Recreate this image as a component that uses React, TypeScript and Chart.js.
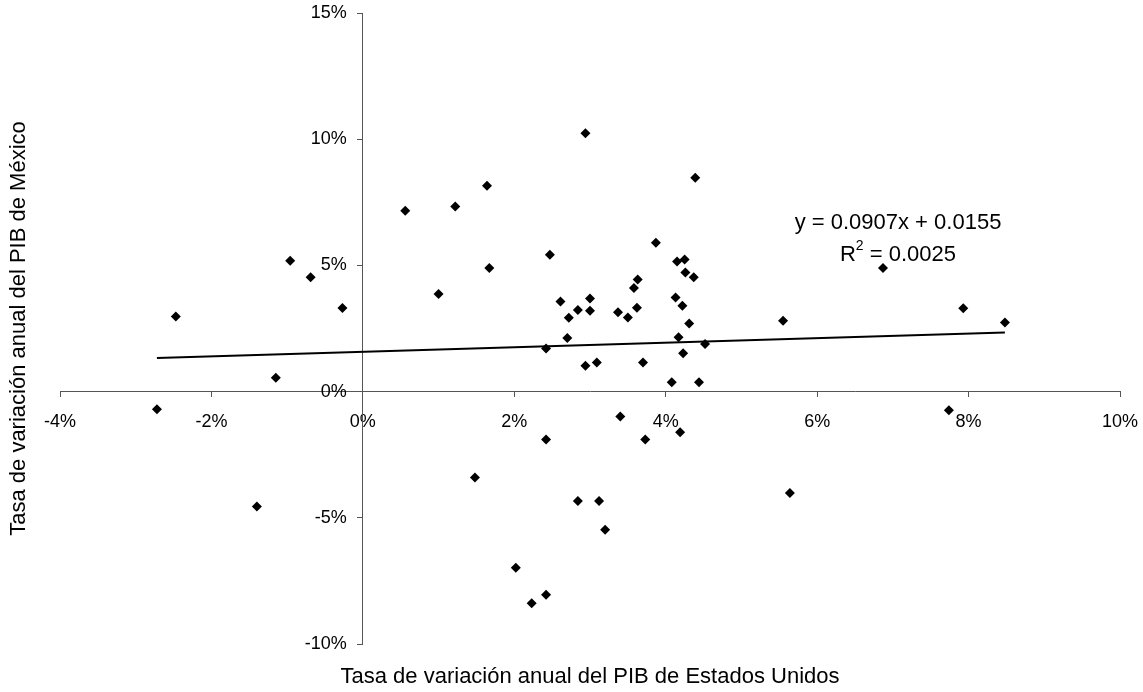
import React, { useEffect, useRef } from "react";
import { Chart, registerables } from "chart.js";

Chart.register(...registerables);

// US GDP growth (%) and Mexico GDP growth (%)
const usGrowth = [
  -2.47, -0.96, -0.69, -0.27, -1.15, -2.72, -1.4, 2.94, 4.39, 1.64,
  1.22, 0.56, 3.87, 2.47, 1.67, 4.15, 4.25, 4.26, 4.37, 3.63,
  3.58, 1.0, 2.61, 3.0, 4.13, 4.22, 2.84, 3.0, 3.37, 3.62,
  3.5, 2.72, 4.31, 2.7, 4.17, 4.52, 2.42, 4.23, 2.94, 3.09,
  3.7, 4.08, 4.44, 3.4, 2.42, 3.73, 4.19, 1.48, 2.84, 3.12,
  3.2, 5.64, 2.02, 2.42, 2.23, 6.87, 5.55, 7.93, 8.48, 7.74,
];
const mxGrowth = [
  2.98, 5.18, 4.53, 3.31, 0.55, -0.7, -4.55, 10.24, 8.47, 8.16,
  7.33, 7.17, 5.9, 5.42, 4.9, 5.15, 5.23, 4.72, 4.53, 4.44,
  4.1, 3.87, 3.57, 3.69, 3.73, 3.4, 3.23, 3.2, 3.14, 3.32,
  2.94, 2.93, 2.7, 2.12, 2.15, 1.89, 1.71, 1.52, 1.02, 1.15,
  1.15, 0.37, 0.37, -0.99, -1.9, -1.9, -1.61, -3.4, -4.33, -4.33,
  -5.47, -4.02, -6.98, -8.05, -8.39, 4.9, 2.81, 3.3, 2.74, -0.74,
];
const trendX = [-2.72, 8.48];
const trendY = [1.33, 2.34];

const xTitle = "Tasa de variación anual del PIB de Estados Unidos";
const yTitle = "Tasa de variación anual del PIB de México";
const eqLine = "y = 0.0907x + 0.0155";
const r2Value = " = 0.0025";

const FONT = "'Liberation Sans', Arial, sans-serif";

const textPlugin = {
  id: "customText",
  beforeDraw(chart: any) {
    const ys = chart.scales.y;
    const items = ys.getLabelItems(chart.chartArea);
    if (!items._shifted) {
      items.forEach((it: any) => {
        it.options.translation[0] -= 16;
      });
      items._shifted = true;
    }
  },
  afterDraw(chart: any) {
    const ctx = chart.ctx;
    const area = chart.chartArea;
    ctx.save();
    ctx.fillStyle = "#000";
    ctx.font = `22px ${FONT}`;
    ctx.textAlign = "center";
    ctx.textBaseline = "middle";
    ctx.fillText(xTitle, (area.left + area.right) / 2, 677);
    ctx.save();
    ctx.translate(19, (area.top + area.bottom) / 2);
    ctx.rotate(-Math.PI / 2);
    ctx.fillText(yTitle, 0, 0);
    ctx.restore();
    // equation
    ctx.fillText(eqLine, 898, 223);
    // R^2
    const wR = ctx.measureText("R").width;
    ctx.font = `14px ${FONT}`;
    const w2 = ctx.measureText("2").width;
    ctx.font = `22px ${FONT}`;
    const wRest = ctx.measureText(r2Value).width;
    const total = wR + w2 + wRest;
    const x0 = 898 - total / 2;
    ctx.textAlign = "left";
    ctx.fillText("R", x0, 255);
    ctx.font = `14px ${FONT}`;
    ctx.fillText("2", x0 + wR, 246);
    ctx.font = `22px ${FONT}`;
    ctx.fillText(r2Value, x0 + wR + w2, 255);
    ctx.restore();
  },
};

const zeroPad = (scale: any) => {
  scale.paddingLeft = 0;
  scale.paddingRight = 0;
  scale.paddingTop = 0;
  scale.paddingBottom = 0;
};

export default function App() {
  const ref = useRef<HTMLCanvasElement | null>(null);
  useEffect(() => {
    if (!ref.current) return;
    const points = usGrowth.map((x, i) => ({ x, y: mxGrowth[i] }));
    const trend = trendX.map((x, i) => ({ x, y: trendY[i] }));
    const chart = new Chart(ref.current, {
      type: "scatter",
      data: {
        datasets: [
          {
            label: "PIB",
            data: points,
            pointStyle: "rectRot",
            pointRadius: 5,
            pointBackgroundColor: "#000",
            pointBorderColor: "#000",
            pointBorderWidth: 0,
            showLine: false,
          },
          {
            label: "Tendencia",
            data: trend,
            showLine: true,
            borderColor: "#000",
            borderWidth: 2,
            pointRadius: 0,
            fill: false,
          },
        ],
      },
      options: {
        animation: false,
        responsive: false,
        devicePixelRatio: 1,
        layout: { padding: { left: 60, right: 23, top: 13, bottom: 48 } },
        plugins: {
          legend: { display: false },
          tooltip: { enabled: false },
        },
        scales: {
          x: {
            type: "linear",
            min: -4,
            max: 10,
            position: { y: 0 },
            afterFit: zeroPad,
            grid: {
              display: true,
              drawOnChartArea: false,
              drawTicks: true,
              tickLength: 5,
              tickColor: "#555",
            },
            border: { display: true, color: "#555", width: 1 },
            ticks: {
              stepSize: 2,
              padding: 15,
              color: "#000",
              font: { family: FONT, size: 18 },
              callback: (v: any) => `${v}%`,
            },
          },
          y: {
            type: "linear",
            min: -10,
            max: 15,
            position: { x: 0 },
            afterFit: zeroPad,
            grid: {
              display: true,
              drawOnChartArea: false,
              drawTicks: true,
              tickLength: 5,
              tickColor: "#555",
            },
            border: { display: true, color: "#555", width: 1 },
            ticks: {
              stepSize: 5,
              padding: 11,
              color: "#000",
              font: { family: FONT, size: 18 },
              callback: (v: any) => `${v}%`,
            },
          },
        },
      },
      plugins: [textPlugin],
    });
    return () => chart.destroy();
  }, []);
  return (
    <div style={{ position: "absolute", left: 0, top: 0, width: 1143, height: 692, background: "#fff" }}>
      <canvas ref={ref} width={1143} height={692} />
    </div>
  );
}
